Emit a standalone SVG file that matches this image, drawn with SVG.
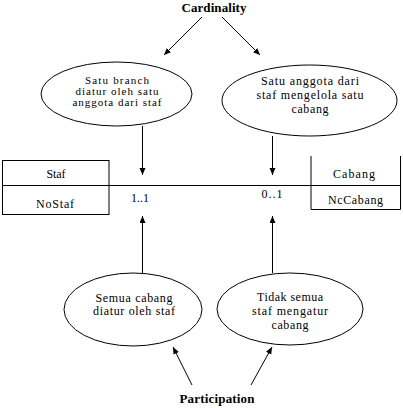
<svg xmlns="http://www.w3.org/2000/svg" width="403" height="408" viewBox="0 0 403 408">
<defs>
<style>
.t{font-family:'Liberation Serif','DejaVu Serif','Times New Roman',serif;font-size:12px;fill:#000;text-anchor:middle}
.sm{font-size:11px}
.b{font-family:'Liberation Serif','DejaVu Serif','Times New Roman',serif;font-size:13px;font-weight:bold;fill:#000;text-anchor:middle}
.s{fill:none;stroke:#000;stroke-width:1}
.e{fill:#fff;stroke:#000;stroke-width:1}
</style>
<marker id="ah" markerWidth="8" markerHeight="8" refX="7" refY="3" orient="auto" markerUnits="userSpaceOnUse">
<path d="M0,0 L7,3 L0,6 Z" fill="#000"/>
</marker>
</defs>
<rect width="403" height="408" fill="#fff"/>
<g id="connectors" class="s">
<line x1="202" y1="17" x2="164" y2="55" marker-end="url(#ah)"/>
<line x1="222" y1="17" x2="260" y2="55" marker-end="url(#ah)"/>
<line x1="142.5" y1="126" x2="142.5" y2="175" marker-end="url(#ah)"/>
<line x1="272.5" y1="136" x2="272.5" y2="175" marker-end="url(#ah)"/>
<line x1="142.5" y1="273" x2="142.5" y2="216" marker-end="url(#ah)"/>
<line x1="272.5" y1="273" x2="272.5" y2="216" marker-end="url(#ah)"/>
<line x1="109" y1="185.5" x2="311" y2="185.5"/>
<line x1="192" y1="385" x2="173" y2="347" marker-end="url(#ah)"/>
<line x1="251" y1="385" x2="272" y2="347" marker-end="url(#ah)"/>
</g>
<g id="cardinality"><text class="b" x="214" y="12" textLength="65" lengthAdjust="spacing">Cardinality</text></g>
<g id="participation"><text class="b" x="217" y="403" textLength="75" lengthAdjust="spacing">Participation</text></g>
<g id="ellipse-tl">
<ellipse class="e" cx="116.5" cy="94" rx="75.5" ry="32"/>
<text class="t sm" x="117" y="84" textLength="64" lengthAdjust="spacing">Satu branch</text>
<text class="t sm" x="117" y="95" textLength="83" lengthAdjust="spacing">diatur oleh satu</text>
<text class="t sm" x="117" y="106" textLength="89" lengthAdjust="spacing">anggota dari staf</text>
</g>
<g id="ellipse-tr">
<ellipse class="e" cx="309.5" cy="100.5" rx="87.5" ry="35.5"/>
<text class="t" x="310" y="85" textLength="98" lengthAdjust="spacing">Satu anggota  dari</text>
<text class="t" x="310" y="99" textLength="107" lengthAdjust="spacing">staf mengelola satu</text>
<text class="t" x="310" y="113" textLength="37" lengthAdjust="spacing">cabang</text>
</g>
<g id="staf">
<rect class="s" x="2.5" y="160.5" width="106.5" height="54"/>
<line class="s" x1="2.5" y1="185.5" x2="109" y2="185.5"/>
<text class="t" x="56" y="178" textLength="19" lengthAdjust="spacing">Staf</text>
<text class="t" x="55" y="208" textLength="38" lengthAdjust="spacing">NoStaf</text>
</g>
<g id="cabang">
<path class="s" d="M311,156 V209.5 H400.5 V156 M311,185.5 H400.5"/>
<text class="t" x="354" y="178" textLength="42" lengthAdjust="spacing">Cabang</text>
<text class="t" x="355.5" y="204" textLength="55" lengthAdjust="spacing">NcCabang</text>
</g>
<g id="labels">
<text class="t" x="140" y="201.5" textLength="18" lengthAdjust="spacing">1..1</text>
<text class="t" x="272" y="197.5" textLength="21" lengthAdjust="spacing">0..1</text>
</g>
<g id="ellipse-bl">
<ellipse class="e" cx="133" cy="309.5" rx="69" ry="36.5"/>
<text class="t" x="134" y="302" textLength="77" lengthAdjust="spacing">Semua cabang</text>
<text class="t" x="134" y="315" textLength="82" lengthAdjust="spacing">diatur oleh staf</text>
</g>
<g id="ellipse-br">
<ellipse class="e" cx="290" cy="309" rx="73" ry="36"/>
<text class="t" x="290" y="301" textLength="66" lengthAdjust="spacing">Tidak semua</text>
<text class="t" x="290" y="315" textLength="76" lengthAdjust="spacing">staf  mengatur</text>
<text class="t" x="290" y="329" textLength="37" lengthAdjust="spacing">cabang</text>
</g>
</svg>
